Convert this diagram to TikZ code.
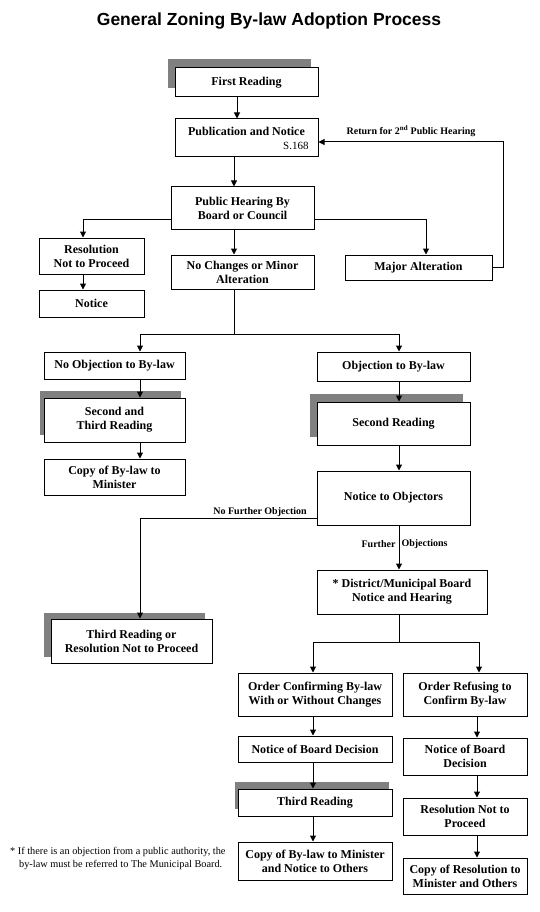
\documentclass[tikz,border=0pt]{standalone}
\usepackage{fontspec}
\setmainfont{Liberation Serif}
\newfontfamily\titlefont{Liberation Sans}
\usepackage{tikz}
\usetikzlibrary{arrows.meta, positioning, shadows}
\definecolor{rdgray}{RGB}{128,128,128}
\tikzset{
x=1pt, y=-1pt, % one unit is one pixel of the sheet, y runs downwards
>={Triangle[length=6pt,width=6pt]}, % filled arrow heads
box/.style={draw, fill=white, line width=1pt, inner sep=0pt, align=center, font=\bfseries\fontsize{12}{14}\selectfont}, % every step of the process
reading/.style 2 args={box, general shadow={fill=rdgray, shadow xshift=#1, shadow yshift=#2}}, % the readings get a grey block behind them
lbl/.style={font=\bfseries\fontsize{10}{12}\selectfont, inner sep=1pt}, % texts on the connectors
link/.style={line width=1pt},
}

\begin{document}
\begin{tikzpicture}
    \path[use as bounding box, fill=white] (0,0) rectangle (540,912);
    \node[font=\titlefont\bfseries\fontsize{17.5}{20}\selectfont] (title) at (269,21) {General Zoning By-law Adoption Process};

    % top part
    \node[reading={-7.5pt}{9pt}, minimum width=143pt, minimum height=29pt] (fr) at (246.5,82.5) {First Reading};
    \node[box, minimum width=143pt, minimum height=38pt, node distance=55.5pt, below of=fr] (pub) {Publication and Notice\\\makebox[124pt][r]{\normalfont\fontsize{11}{13}\selectfont S.168}};
    \node[box, minimum width=143pt, minimum height=42pt] (ph) at (242.5,208) {Public Hearing By\\Board or Council};
    \node[box, minimum width=143pt, minimum height=34pt, node distance=64pt, below of=ph] (nochg) {No Changes or Minor\\Alteration};
    \node[box, minimum width=105pt, minimum height=36pt] (res) at (91.5,256) {Resolution\\Not to Proceed};
    \node[box, minimum width=105pt, minimum height=27pt, node distance=47.5pt, below of=res] (notice) {Notice};
    \node[box, minimum width=147pt, minimum height=25pt] (major) at (418.5,267.5) {Major Alteration};

    % objection or not
    \node[box, minimum width=141pt, minimum height=27pt] (noobj) at (114.5,365.5) {No Objection to By-law};
    \node[reading={-4.5pt}{7.5pt}, minimum width=141pt, minimum height=44pt, node distance=54.5pt, below of=noobj] (secthird) {Second and\\Third Reading};
    \node[box, minimum width=141pt, minimum height=36pt, node distance=57pt, below of=secthird] (copymin) {Copy of By-law to\\Minister};
    \node[box, minimum width=153pt, minimum height=29pt] (obj) at (393.5,366.5) {Objection to By-law};
    \node[reading={-7.5pt}{8pt}, minimum width=153pt, minimum height=43pt, node distance=57pt, below of=obj] (second) {Second Reading};
    \node[box, minimum width=153pt, minimum height=54pt, node distance=74.5pt, below of=second] (objectors) {Notice to Objectors};
    \node[box, minimum width=170pt, minimum height=44pt] (board) at (402,592) {* District/Municipal Board\\Notice and Hearing};
    \node[reading={-7pt}{6.5pt}, minimum width=161pt, minimum height=44pt] (thirdor) at (131.5,641) {Third Reading or\\Resolution Not to Proceed};

    % board decision
    \node[box, minimum width=154pt, minimum height=43pt] (confirm) at (315,694.5) {Order Confirming By-law\\With or Without Changes};
    \node[box, minimum width=154pt, minimum height=26pt, node distance=54.5pt, below of=confirm] (decL) {Notice of Board Decision};
    \node[reading={-3pt}{7pt}, minimum width=154pt, minimum height=27pt, node distance=53.5pt, below of=decL] (third) {Third Reading};
    \node[box, minimum width=154pt, minimum height=38pt, node distance=58.5pt, below of=third] (copyL) {Copy of By-law to Minister\\and Notice to Others};
    \node[box, minimum width=124pt, minimum height=43pt] (refuse) at (465,694.5) {Order Refusing to\\Confirm By-law};
    \node[box, minimum width=124pt, minimum height=37pt, node distance=62pt, below of=refuse] (decR) {Notice of Board\\Decision};
    \node[box, minimum width=124pt, minimum height=37pt, node distance=60pt, below of=decR] (resR) {Resolution Not to\\Proceed};
    \node[box, minimum width=124pt, minimum height=36pt, node distance=59.5pt, below of=resR] (copyR) {Copy of Resolution to\\Minister and Others};

    \node[anchor=north west, inner sep=0pt, align=left, font=\fontsize{10.3}{13}\selectfont] (note) at (10,847) {* If there is an objection from a public authority, the\\\hspace*{9pt}by-law must be referred to The Municipal Board.};

    % connectors
    \draw[->, link] ([xshift=-9.5pt]fr.south) -- ([xshift=-9.5pt]fr.south |- pub.north);
    \draw[->, link] ([xshift=-12.5pt]pub.south) -- ([xshift=-12.5pt]pub.south |- ph.north);
    \draw[->, link] ([yshift=-11pt]ph.west) -| ([xshift=-8.5pt]res.north);
    \draw[->, link] ([xshift=-8.5pt]res.south) -- ([xshift=-8.5pt]notice.north);
    \draw[->, link] ([xshift=-8.5pt]ph.south) -- ([xshift=-8.5pt]nochg.north);
    \draw[->, link] ([yshift=-11pt]ph.east) -| ([xshift=7.5pt]major.north);
    \draw[->, link] (major.east) -- ++(11,0) |- ([yshift=-4pt]pub.east) node[lbl, above=4pt, pos=0.75] {Return for 2\textsuperscript{nd} Public Hearing};

    \draw[link] ([xshift=-8.5pt]nochg.south) -- ++(0,45) coordinate (fork1);
    \draw[->, link] (fork1) -| ([xshift=25.5pt]noobj.north);
    \draw[->, link] (fork1) -| ([xshift=5.5pt]obj.north);
    \foreach \a/\b in {noobj/secthird, secthird/copymin}
        \draw[->, link] ([xshift=25.5pt]\a.south) -- ([xshift=25.5pt]\b.north);
    \foreach \a/\b in {obj/second, second/objectors}
        \draw[->, link] ([xshift=5.5pt]\a.south) -- ([xshift=5.5pt]\b.north);
    \draw[->, link] ([xshift=5.5pt]objectors.south) -- ([xshift=5.5pt]objectors.south |- board.north)
        node[lbl, left=2pt, pos=0.42] {Further} node[lbl, right=1pt, pos=0.42] {Objections};
    \draw[->, link] ([yshift=-20pt]objectors.west) -| ([xshift=8.5pt]thirdor.north) node[lbl, above, pos=0.16] {No Further Objection};

    \draw[link] ([xshift=-3pt]board.south) -- ++(0,28) coordinate (fork2);
    \draw[->, link] (fork2) -| ([xshift=-2pt]confirm.north);
    \draw[->, link] (fork2) -| ([xshift=14pt]refuse.north);
    \foreach \a/\b in {confirm/decL, decL/third, third/copyL}
        \draw[->, link] ([xshift=-2pt]\a.south) -- ([xshift=-2pt]\b.north);
    \foreach \a/\b in {refuse/decR, decR/resR, resR/copyR}
        \draw[->, link] ([xshift=12pt]\a.south) -- ([xshift=12pt]\b.north);
\end{tikzpicture}
\end{document}
